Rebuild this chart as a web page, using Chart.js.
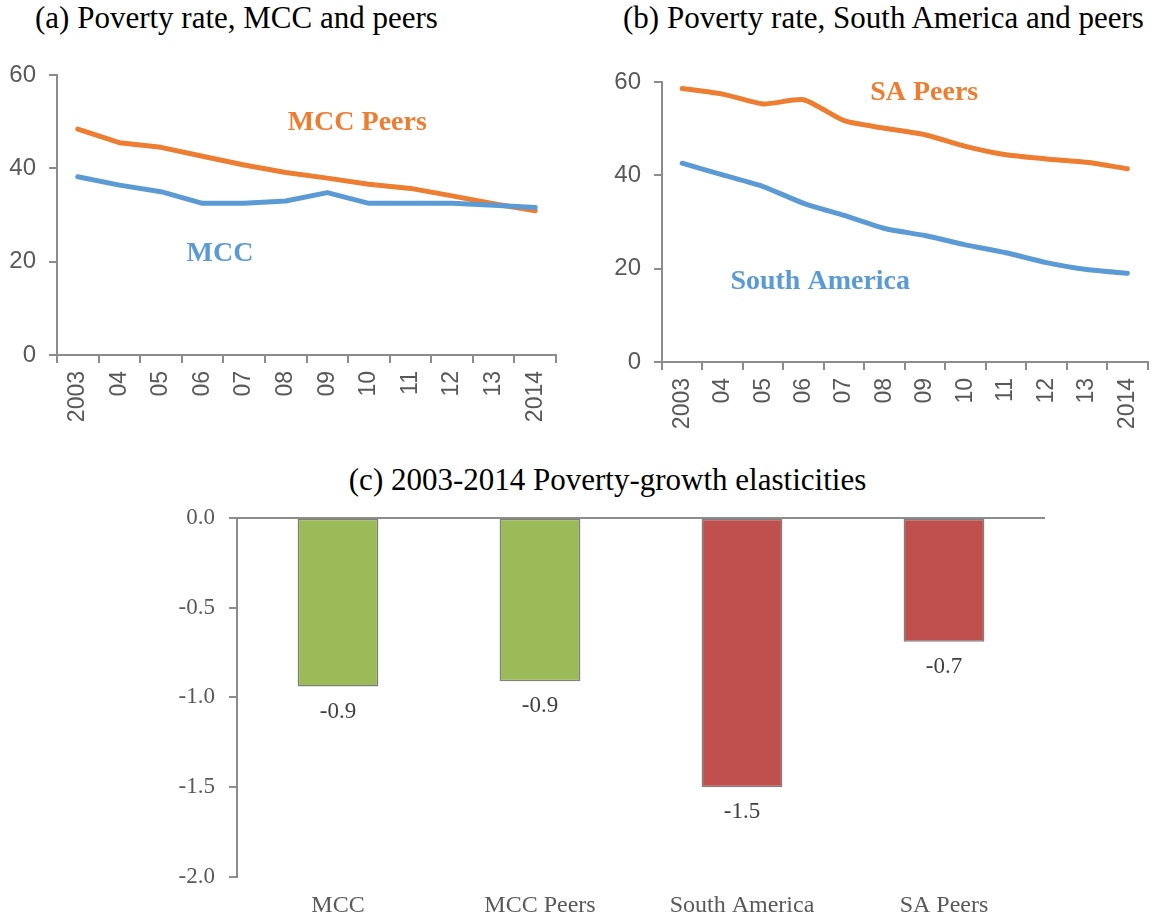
<!DOCTYPE html>
<html>
<head>
<meta charset="utf-8">
<script src="https://cdn.jsdelivr.net/npm/chart.js@4.4.0/dist/chart.umd.min.js"></script>
<style>
  body { margin: 0; background: #fff; width: 1163px; height: 917px; position: relative; overflow: hidden; }
  .title { position: absolute; font-family: 'Liberation Serif', 'Times New Roman', serif; font-size: 31px; line-height: 31px; color: #000; white-space: nowrap; }
  canvas { position: absolute; }
</style>
</head>
<body>
<div class="title" style="left:35px; top:2px;">(a) Poverty rate, MCC and peers</div>
<div class="title" style="left:623px; top:2px;">(b) Poverty rate, South America and peers</div>
<div class="title" style="left:0; width:1215px; text-align:center; top:464px;">(c) 2003-2014 Poverty-growth elasticities</div>

<canvas id="graphA" width="575" height="420" style="left:0; top:40px;"></canvas>
<canvas id="graphB" width="588" height="420" style="left:575px; top:40px;"></canvas>
<canvas id="graphC" width="1003" height="427" style="left:160px; top:490px;"></canvas>

<script>
// poverty rate, %
var years = ['2003', '04', '05', '06', '07', '08', '09', '10', '11', '12', '13', '2014'];
var mccRate = [38.2, 36.4, 35.0, 32.5, 32.5, 33.0, 34.8, 32.5, 32.5, 32.5, 32.1, 31.6];
var mccPeersRate = [48.4, 45.5, 44.5, 42.6, 40.7, 39.1, 37.9, 36.6, 35.7, 34.1, 32.4, 30.9];
var southAmericaRate = [42.6, 40.1, 37.6, 34.0, 31.4, 28.6, 27.1, 25.1, 23.4, 21.3, 19.8, 19.0];
var saPeersRate = [58.6, 57.4, 55.3, 56.2, 51.7, 50.1, 48.7, 46.2, 44.4, 43.5, 42.8, 41.4];
var rateTicks = [0, 20, 40, 60];

// 2003-2014 elasticities
var groups = ['MCC', 'MCC Peers', 'South America', 'SA Peers'];
var elasticity = [-0.94, -0.91, -1.50, -0.69];
var elasticityTicks = [0, -0.5, -1.0, -1.5, -2.0];

var blue = '#5B9BD5';
var orange = '#ED7D31';
var axisGrey = '#8C8C8C';
var sans = "'Liberation Sans', Arial, sans-serif";
var serif = "'Liberation Serif', 'Times New Roman', serif";

// names written next to the lines, anchored in data units
function lineNames(items) {
    return {
        id: 'lineNames',
        afterDatasetsDraw: function (chart) {
            var ctx = chart.ctx;
            ctx.save();
            ctx.font = 'bold 28px ' + serif;
            ctx.textAlign = 'center';
            ctx.textBaseline = 'middle';
            items.forEach(function (it) {
                ctx.fillStyle = it.color;
                ctx.fillText(it.text, chart.scales.x.getPixelForValue(it.x), chart.scales.y.getPixelForValue(it.y));
            });
            ctx.restore();
        }
    };
}

var barValues = {
    id: 'barValues',
    afterDatasetsDraw: function (chart) {
        var ctx = chart.ctx;
        var meta = chart.getDatasetMeta(0);
        ctx.save();
        ctx.font = '23px ' + serif;
        ctx.fillStyle = '#404040';
        ctx.textAlign = 'center';
        ctx.textBaseline = 'middle';
        meta.data.forEach(function (bar, i) {
            ctx.fillText(elasticity[i].toFixed(1), bar.x, bar.y + 25);
        });
        ctx.restore();
    }
};

function lineChart(id, series, names, yWidth, xHeight, padTop, padRight, tension) {
    var context = document.getElementById(id).getContext('2d');
    return new Chart(context, {
        type: 'line',
        data: {
            labels: years,
            datasets: series.map(function (s) {
                return {
                    data: s.data,
                    borderColor: s.color,
                    backgroundColor: s.color,
                    borderWidth: 5,
                    pointRadius: 0,
                    tension: tension,
                    borderJoinStyle: 'round',
                    borderCapStyle: 'round',
                    fill: false
                };
            })
        },
        options: {
            responsive: false,
            animation: false,
            layout: { padding: { top: padTop, right: padRight, bottom: 0, left: 0 } },
            plugins: { legend: { display: false }, tooltip: { enabled: false } },
            scales: {
                x: {
                    offset: true,
                    grid: { offset: true, drawOnChartArea: false, drawTicks: true, tickLength: 8, color: axisGrey, lineWidth: 2 },
                    border: { display: true, color: axisGrey, width: 2 },
                    ticks: { autoSkip: false, maxRotation: 90, minRotation: 90, padding: 8, color: '#595959', font: { family: sans, size: 23 } },
                    afterFit: function (scale) { scale.height = xHeight; }
                },
                y: {
                    min: 0,
                    max: 60,
                    afterBuildTicks: function (scale) { scale.ticks = rateTicks.map(function (v) { return { value: v }; }); },
                    grid: { drawOnChartArea: false, drawTicks: true, tickLength: 8, color: axisGrey, lineWidth: 2 },
                    border: { display: true, color: axisGrey, width: 2 },
                    ticks: { padding: 13, color: '#595959', font: { family: sans, size: 24 } },
                    afterFit: function (scale) { scale.width = yWidth; }
                }
            }
        },
        plugins: [lineNames(names)]
    });
}

lineChart('graphA',
    [{ data: mccRate, color: blue }, { data: mccPeersRate, color: orange }],
    [{ text: 'MCC Peers', color: orange, x: 6.72, y: 49.8 }, { text: 'MCC', color: blue, x: 3.42, y: 21.8 }],
    57, 105, 35, 19, 0);

lineChart('graphB',
    [{ data: southAmericaRate, color: blue }, { data: saPeersRate, color: orange }],
    [{ text: 'SA Peers', color: orange, x: 5.98, y: 57.7 }, { text: 'South America', color: blue, x: 3.41, y: 17.3 }],
    87, 98, 42, 1, 0.2);

var barContext = document.getElementById('graphC').getContext('2d');
var barChart = new Chart(barContext, {
    type: 'bar',
    data: {
        labels: groups,
        datasets: [{
            data: elasticity,
            backgroundColor: ['#9BBB59', '#9BBB59', '#C0504D', '#C0504D'],
            borderColor: '#7F7F7F',
            borderWidth: 1.5,
            borderSkipped: false,
            barPercentage: 0.4,
            categoryPercentage: 1.0
        }]
    },
    options: {
        responsive: false,
        animation: false,
        layout: { padding: { top: 23, right: 118, bottom: 0, left: 0 } },
        plugins: { legend: { display: false }, tooltip: { enabled: false } },
        scales: {
            x: {
                grid: { display: false, drawTicks: false },
                border: { display: false },
                ticks: { padding: 14, color: '#595959', font: { family: serif, size: 24 } },
                afterFit: function (scale) { scale.height = 40; }
            },
            y: {
                min: -2,
                max: 0,
                afterBuildTicks: function (scale) { scale.ticks = elasticityTicks.map(function (v) { return { value: v }; }); },
                grid: {
                    drawTicks: true,
                    tickLength: 8,
                    lineWidth: 2,
                    color: function (c) { return c.tick && c.tick.value === 0 ? axisGrey : 'rgba(0,0,0,0)'; },
                    tickColor: axisGrey
                },
                border: { display: true, color: axisGrey, width: 2 },
                ticks: {
                    padding: 14,
                    color: '#595959',
                    font: { family: serif, size: 23 },
                    callback: function (v) { return Number(v).toFixed(1); }
                },
                afterFit: function (scale) { scale.width = 77; }
            }
        }
    },
    plugins: [barValues]
});
</script>
</body>
</html>
